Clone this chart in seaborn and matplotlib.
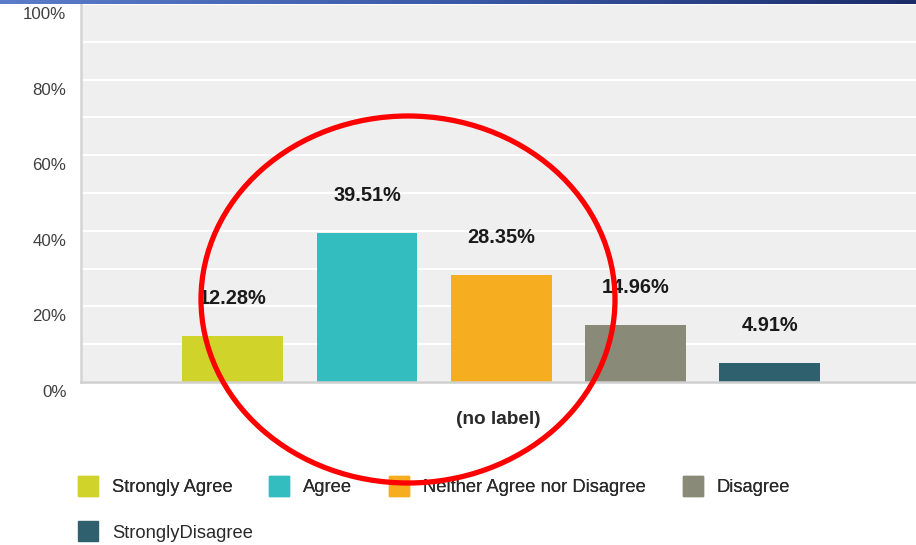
import numpy as np
import pandas as pd
import matplotlib
matplotlib.use("Agg")
import matplotlib.pyplot as plt
import seaborn as sns
from matplotlib.lines import Line2D
from matplotlib.patches import Ellipse
from matplotlib.transforms import ScaledTranslation
from matplotlib.colors import LinearSegmentedColormap

# ---- data ----
categories = ["Strongly Agree", "Agree", "Neither Agree nor Disagree",
              "Disagree", "StronglyDisagree"]
values = [12.28, 39.51, 28.35, 14.96, 4.91]
colors = ["#d0d42a", "#34bdbf", "#f6ae20", "#8a8a78", "#2f606d"]
ytick_vals = [0, 20, 40, 60, 80, 100]
ytick_labels = ["0%", "20%", "40%", "60%", "80%", "100%"]
xlabel_text = "(no label)"

df = pd.DataFrame({"cat": categories, "val": values})

sns.set_theme(style="white")
plt.rcParams["font.family"] = ["Liberation Sans", "DejaVu Sans"]

W, H = 916, 545
fig = plt.figure(figsize=(W / 100, H / 100), dpi=100)
fig.patch.set_facecolor("white")

# axes: left 81px, bottom at y=382, top at y=4
ax = fig.add_axes([81 / W, (H - 382) / H, 1 - 81 / W, (382 - 4) / H])
ax.set_facecolor("#efefef")

sns.barplot(data=df, x="cat", y="val", hue="cat", palette=colors,
            order=categories, hue_order=categories, width=0.75,
            legend=False, ax=ax, saturation=1, linewidth=0)

ax.set_xlim(-1.13, 5.09)
ax.set_ylim(0, 100)

ax.set_yticks(ytick_vals)
ax.set_yticklabels(ytick_labels)
ax.set_yticks(np.arange(10, 100, 20), minor=True)
ax.tick_params(axis="y", which="both", length=0, pad=10.5, labelsize=12.2,
               labelcolor="#404040")
shift = ScaledTranslation(0, -10.5 / 100, fig.dpi_scale_trans)
for lab in ax.get_yticklabels():
    lab.set_verticalalignment("center")
    lab.set_transform(lab.get_transform() + shift)
ax.set_xticks([])
ax.grid(axis="y", which="both", color="white", linewidth=1.6)
ax.set_axisbelow(True)

for s in ["top", "right"]:
    ax.spines[s].set_visible(False)
ax.spines["left"].set_color("#d4d4d4")
ax.spines["left"].set_linewidth(1.8)
ax.spines["bottom"].set_color("#cfcfcf")
ax.spines["bottom"].set_linewidth(1.8)

ax.set_xlabel(xlabel_text, fontsize=13.7, fontweight="bold", color="#2a2a2a",
              labelpad=21)
ax.set_ylabel("")

# value labels
for i, v in enumerate(values):
    ax.annotate(f"{v:.2f}%", xy=(i, v), xytext=(0, 27), textcoords="offset points",
                ha="center", va="center", fontsize=14.4, fontweight="bold",
                color="#1a1a1a")

# legend row 1 and row 2
handles = [Line2D([0], [0], marker="s", linestyle="none", markersize=14.4,
                  markerfacecolor=c, markeredgecolor=c) for c in colors]
leg1 = fig.legend(handles[:4], categories[:4], ncol=4, loc="center left",
                  bbox_to_anchor=(78 / W, 1 - 488 / H), frameon=False,
                  fontsize=13.2, handlelength=1.1, handletextpad=0.75,
                  columnspacing=2.0, borderaxespad=0, borderpad=0)
for t in leg1.get_texts():
    t.set_color("#2a2a2a")
leg2 = fig.legend(handles[4:], categories[4:], ncol=1, loc="center left",
                  bbox_to_anchor=(78 / W, 1 - 533 / H), frameon=False,
                  fontsize=13.2, handlelength=1.1, handletextpad=0.75,
                  borderaxespad=0, borderpad=0)
for t in leg2.get_texts():
    t.set_color("#2a2a2a")
fig.add_artist(leg1)

# top gradient strip
gax = fig.add_axes([0, 1 - 4 / H, 1, 4 / H])
grad = np.linspace(0, 1, 256)[None, :]
cmap = LinearSegmentedColormap.from_list("strip", ["#5b7cc8", "#3a5aa8", "#1b2c68"])
gax.imshow(grad, aspect="auto", cmap=cmap)
gax.axis("off")

# red ellipse annotation
ell = Ellipse((408 / W, 1 - 299.5 / H), 414 / W, 367 / H,
              transform=fig.transFigure, fill=False, edgecolor="#ff0000",
              linewidth=3.8, clip_on=False, zorder=10)
fig.add_artist(ell)

fig.savefig("out.png", dpi=100)
